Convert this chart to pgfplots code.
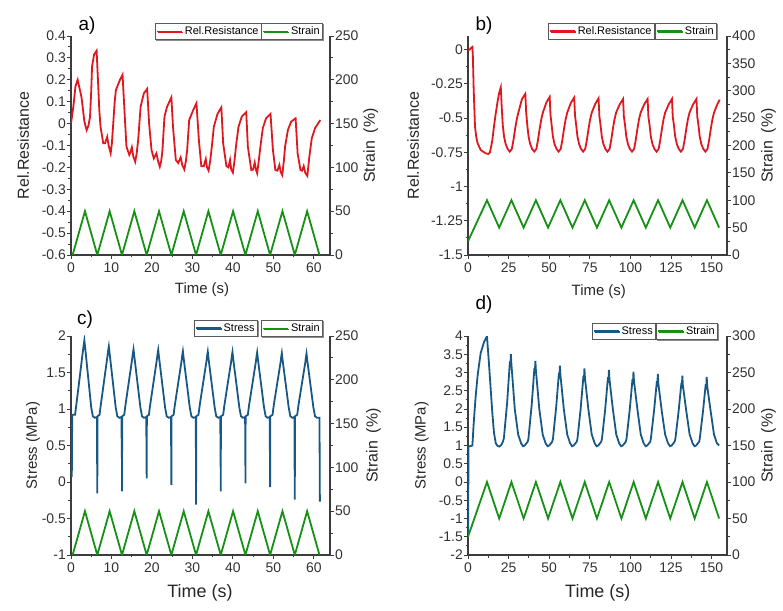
\documentclass[border=0pt]{standalone}
\usepackage{fontspec}
\setmainfont{Liberation Sans}
\usepackage{pgfplots}
\pgfplotsset{compat=1.18}
\usetikzlibrary{shadows}

\definecolor{rred}{RGB}{222,24,30}
\definecolor{ggreen}{RGB}{22,145,22}
\definecolor{bblue}{RGB}{24,88,132}
\definecolor{axgray}{RGB}{60,60,60}
\definecolor{txtgray}{RGB}{50,50,50}

\pgfplotsset{
  panel/.style={
    scale only axis, width=259bp, height=219bp, anchor=south west,
    axis line style={axgray, line width=1.1bp},
    tick style={axgray, line width=0.9bp},
    tick align=outside, major tick length=4bp, minor tick length=2.5bp,
    minor x tick num=1, minor y tick num=1,
    ticklabel style={font=\fontsize{14}{16}\selectfont, text=txtgray},
    yticklabel style={inner xsep=1bp},
    /pgf/number format/assume math mode=true,
    /pgf/number format/fixed,
    label style={font=\fontsize{16}{18}\selectfont, text=black!85},
    legend style={font=\fontsize{11}{12}\selectfont, draw=black!65, line width=0.6bp,
      fill=white, inner xsep=1bp, inner ysep=1.5bp, anchor=north east,
      drop shadow={shadow xshift=1bp, shadow yshift=-1bp, fill=black!45, opacity=1}},
    legend image code/.code={\draw[#1] (0bp,0bp) -- (25bp,0bp);},
    no markers,
  },
  leftax/.style={panel, axis x line*=bottom, axis y line*=left},
  rightax/.style={panel, axis x line=none, axis y line*=right},
  redline/.style={rred, line width=1.8bp},
  greenline/.style={ggreen, line width=1.8bp},
  blueline/.style={bblue, line width=1.8bp},
}

\begin{document}
\begin{tikzpicture}
\useasboundingbox (0,0) rectangle (783bp,611bp);

% ---------------- a) ----------------
\begin{axis}[leftax, at={(71bp,356bp)}, xmin=0, xmax=64, ymin=-0.6, ymax=0.4,
  xtick={0,10,...,60},
  ytick={-0.6,-0.5,-0.4,-0.3,-0.2,-0.1,0,0.1,0.2,0.3,0.4},
  xlabel={Time (s)}, ylabel={Rel.Resistance},
  xlabel style={at={(axis description cs:0.506,-0.16)}, anchor=center, font=\fontsize{15}{17}\selectfont},
  ylabel style={at={(axis description cs:-0.185,0.5)}, anchor=center},
  legend style={at={(0.737,1.059)}}]
\addplot[redline] coordinates {
(0,0) (0.6,0.08) (1.1,0.17) (1.65,0.2) (2.6,0.12) (3.3,0.01) (3.86,-0.03) (4.3,-0.01)
(4.7,0.03) (5.0,0.15) (5.2,0.26) (5.7,0.315) (6.33,0.333) (6.66,0.2) (7.0,0.06) (7.3,-0.015)
(7.97,-0.09) (8.4,-0.09) (8.95,-0.06) (9.3,-0.1) (9.8,-0.136) (10.1,-0.09) (10.4,-0.01)
(10.8,0.1) (11.1,0.153) (12.1,0.2) (12.74,0.223) (13.15,0.08) (13.7,-0.105) (14.4,-0.143)
(14.7,-0.13) (15.04,-0.108) (15.4,-0.15) (15.86,-0.174) (16.2,-0.14) (16.6,-0.075)
(17.2,0.077) (18.0,0.138) (18.82,0.159) (19.3,0.0) (19.9,-0.121) (20.46,-0.159) (21.1,-0.136)
(21.5,-0.17) (21.94,-0.197) (22.3,-0.17) (22.6,-0.121) (23.1,0.032) (23.74,0.077) (24.8,0.12)
(25.2,-0.014) (25.9,-0.166) (26.5,-0.18) (27.1,-0.154) (27.5,-0.19) (28.0,-0.209) (28.4,-0.17)
(28.7,-0.121) (29.2,0.016) (30.2,0.062) (31.0,0.093) (31.6,-0.075) (32.2,-0.194) (32.8,-0.195)
(33.3,-0.162) (33.6,-0.2) (34.0,-0.215) (34.4,-0.17) (34.8,-0.105) (35.3,-0.014) (36.2,0.044)
(37.15,0.074) (37.6,-0.09) (38.4,-0.194) (38.9,-0.2) (39.3,-0.166) (39.6,-0.21) (40.0,-0.224)
(40.4,-0.17) (40.85,-0.09) (41.4,-0.014) (42.2,0.032) (43.3,0.052) (43.7,-0.105) (44.55,-0.212)
(45.0,-0.21) (45.4,-0.178) (45.7,-0.21) (46.0,-0.227) (46.4,-0.17) (46.8,-0.105) (47.4,-0.021)
(48.2,0.024) (49.3,0.044) (49.9,-0.121) (50.5,-0.212) (51.0,-0.215) (51.5,-0.189) (51.8,-0.22)
(52.2,-0.235) (52.6,-0.17) (52.9,-0.105) (53.6,-0.029) (54.4,0.009) (55.5,0.024) (56.0,-0.136)
(56.7,-0.212) (57.1,-0.215) (57.5,-0.194) (57.9,-0.225) (58.4,-0.239) (58.9,-0.151)
(59.5,-0.067) (60.3,-0.021) (61.6,0.016)
};
\addlegendentry{Rel.Resistance}
\end{axis}
\begin{axis}[rightax, at={(71bp,356bp)}, xmin=0, xmax=64, ymin=0, ymax=250,
  ytick={0,50,...,250},
  ylabel={Strain\hspace{0.5em}(\%)},
  ylabel style={at={(axis description cs:1.157,0.5)}, anchor=center},
  legend style={at={(0.973,1.059)}}]
\addplot[greenline] coordinates {
(0.4,0) (3.45,50) (6.5,0) (9.55,50) (12.6,0) (15.65,50) (18.7,0) (21.75,50) (24.8,0)
(27.85,50) (30.9,0) (33.95,50) (37.0,0) (40.05,50) (43.1,0) (46.15,50) (49.2,0) (52.25,50)
(55.3,0) (58.35,50) (61.4,0)
};
\addlegendentry{Strain}
\end{axis}

% ---------------- b) ----------------
\begin{axis}[leftax, at={(468bp,356bp)}, xmin=0, xmax=159.5, ymin=-1.5, ymax=0.1,
  xtick={0,25,...,150},
  ytick={-1.5,-1.25,-1,-0.75,-0.5,-0.25,0},
  xlabel={Time (s)}, ylabel={Rel.Resistance},
  xlabel style={at={(axis description cs:0.505,-0.168)}, anchor=center, font=\fontsize{15}{17}\selectfont},
  ylabel style={at={(axis description cs:-0.212,0.5)}, anchor=center},
  legend style={at={(0.721,1.061)}}]
\addplot[redline] coordinates {
(0,0) (1,0.0) (1.6,0.01) (2.7,0.02) (3.0,-0.05) (3.5,-0.29) (4.3,-0.56) (5.0,-0.63)
(5.8,-0.68) (7.8,-0.733) (10.9,-0.757) (12.6,-0.762) (13.5,-0.75) (14.2,-0.71) (15.0,-0.66)
(16.0,-0.56) (17.1,-0.465) (18.2,-0.38) (19.1,-0.32) (20.2,-0.275)
(20.7,-0.405) (21.4,-0.55) (22.2,-0.635) (23.2,-0.69) (24.4,-0.725) (25.7,-0.745) (27.0,-0.725)
(28.0,-0.66) (29.0,-0.58) (30.0,-0.51) (31.0,-0.46) (33.2,-0.362)
(35.3,-0.322) (35.8,-0.452) (36.5,-0.55) (37.3,-0.635) (38.3,-0.69) (39.5,-0.725) (40.8,-0.745)
(42.1,-0.725) (43.1,-0.66) (44.1,-0.58) (45.1,-0.51) (46.1,-0.46) (48.3,-0.385)
(50.3,-0.345) (50.8,-0.475) (51.5,-0.55) (52.3,-0.635) (53.3,-0.69) (54.5,-0.725) (55.8,-0.745)
(57.1,-0.725) (58.1,-0.66) (59.1,-0.58) (60.1,-0.51) (61.1,-0.46) (63.3,-0.39)
(65.4,-0.35) (65.9,-0.48) (66.6,-0.55) (67.4,-0.635) (68.4,-0.69) (69.6,-0.725) (70.9,-0.745)
(72.2,-0.725) (73.2,-0.66) (74.2,-0.58) (75.2,-0.51) (76.2,-0.46) (78.4,-0.395)
(80.4,-0.355) (80.9,-0.485) (81.6,-0.55) (82.4,-0.635) (83.4,-0.69) (84.6,-0.725) (85.9,-0.745)
(87.2,-0.725) (88.2,-0.66) (89.2,-0.58) (90.2,-0.51) (91.2,-0.46) (93.4,-0.4)
(95.5,-0.36) (96.0,-0.49) (96.7,-0.55) (97.5,-0.635) (98.5,-0.69) (99.7,-0.725) (101.0,-0.745)
(102.3,-0.725) (103.3,-0.66) (104.3,-0.58) (105.3,-0.51) (106.3,-0.46) (108.5,-0.4)
(110.6,-0.36) (111.1,-0.49) (111.8,-0.55) (112.6,-0.635) (113.6,-0.69) (114.8,-0.725) (116.1,-0.745)
(117.4,-0.725) (118.4,-0.66) (119.4,-0.58) (120.4,-0.51) (121.4,-0.46) (123.6,-0.4)
(125.6,-0.36) (126.1,-0.49) (126.8,-0.55) (127.6,-0.635) (128.6,-0.69) (129.8,-0.725) (131.1,-0.745)
(132.4,-0.725) (133.4,-0.66) (134.4,-0.58) (135.4,-0.51) (136.4,-0.46) (138.6,-0.4)
(140.7,-0.36) (141.2,-0.49) (141.9,-0.55) (142.7,-0.635) (143.7,-0.69) (144.9,-0.725) (146.2,-0.745)
(147.5,-0.725) (148.5,-0.66) (149.5,-0.58) (150.5,-0.51) (151.5,-0.46) (153.5,-0.4) (155.0,-0.365)
};
\addlegendentry{Rel.Resistance}
\end{axis}
\begin{axis}[rightax, at={(468bp,356bp)}, xmin=0, xmax=159.5, ymin=0, ymax=400,
  ytick={0,50,...,400},
  ylabel={Strain\hspace{0.5em}(\%)},
  ylabel style={at={(axis description cs:1.16,0.5)}, anchor=center},
  legend style={at={(0.961,1.061)}}]
\addplot[greenline] coordinates {
(0,25) (11.7,100) (19.2,50) (26.75,100) (34.25,50) (41.8,100) (49.3,50) (56.85,100) (64.35,50)
(71.9,100) (79.4,50) (86.95,100) (94.45,50) (102.0,100) (109.5,50) (117.05,100) (124.55,50)
(132.1,100) (139.6,50) (147.15,100) (154.65,50)
};
\addlegendentry{Strain}
\end{axis}

% ---------------- c) ----------------
\begin{axis}[leftax, at={(71bp,56bp)}, xmin=0, xmax=64, ymin=-1, ymax=2,
  xtick={0,10,...,60},
  ytick={-1,-0.5,0,0.5,1,1.5,2},
  xlabel={Time (s)}, ylabel={Stress (MPa)},
  xlabel style={at={(axis description cs:0.498,-0.174)}, anchor=center, font=\fontsize{18}{20}\selectfont},
  ylabel style={at={(axis description cs:-0.147,0.5)}, anchor=center, font=\fontsize{15}{17}\selectfont},
  legend style={at={(0.722,1.073)}}]
\addplot[blueline] coordinates {
(0.2,0.07) (0.3,0.92) (1.0,0.92) (1.3,1.05) (3.0,1.82) (3.15,1.88) (3.3,1.94) (3.5,1.84)
(5.0,1.02) (5.4,0.9) (5.9,0.88) (6.4,0.89) (6.5,-0.155) (6.55,0.9) (7.05,0.92) (7.35,1.05)
(9.05,1.74) (9.2,1.81) (9.35,1.86) (9.55,1.76) (11.05,1.02) (11.45,0.9) (11.95,0.88) (12.45,0.89)
(12.5,0.6) (12.55,0.88) (12.6,-0.13) (12.65,0.9) (13.15,0.92) (13.45,1.05) (15.15,1.70)
(15.3,1.77) (15.45,1.82) (15.65,1.72) (17.15,1.02) (17.55,0.9) (18.05,0.88) (18.6,0.89)
(18.7,0.05) (18.75,0.9) (19.25,0.92) (19.55,1.05) (21.25,1.69) (21.4,1.76) (21.55,1.81)
(21.75,1.71) (23.25,1.02) (23.65,0.9) (24.15,0.88) (24.7,0.89) (24.75,0.47) (24.78,0.88)
(24.8,-0.04) (24.85,0.9) (25.35,0.92) (25.65,1.05) (27.35,1.67) (27.5,1.74) (27.65,1.79)
(27.85,1.69) (29.35,1.02) (29.75,0.9) (30.25,0.88) (30.8,0.89) (30.85,0.46) (30.88,0.88)
(30.9,-0.31) (30.95,0.9) (31.5,0.92) (31.8,1.05) (33.5,1.665) (33.65,1.735) (33.8,1.785)
(34.0,1.685) (35.5,1.02) (35.9,0.9) (36.4,0.88) (36.9,0.89) (36.95,0.21) (36.98,0.88)
(37.0,-0.13) (37.05,0.9) (37.6,0.92) (37.9,1.05) (39.6,1.66) (39.75,1.73) (39.9,1.78)
(40.1,1.68) (41.6,1.02) (42.0,0.9) (42.5,0.88) (43.0,0.89) (43.05,0.74) (43.08,0.88)
(43.1,-0.02) (43.15,0.9) (43.7,0.92) (44.0,1.05) (45.7,1.655) (45.85,1.725) (46.0,1.775)
(46.2,1.675) (47.7,1.02) (48.1,0.9) (48.6,0.88) (49.1,0.89) (49.2,-0.07) (49.25,0.9)
(49.8,0.92) (50.1,1.05) (51.8,1.645) (51.95,1.715) (52.1,1.765) (52.3,1.665) (53.8,1.02)
(54.2,0.9) (54.7,0.88) (55.2,0.89) (55.3,-0.24) (55.35,0.9) (55.9,0.92) (56.2,1.05)
(57.9,1.64) (58.05,1.71) (58.2,1.76) (58.4,1.66) (59.9,1.02) (60.3,0.9) (60.8,0.88)
(61.4,0.88) (61.5,-0.27)
};
\addlegendentry{Stress}
\end{axis}
\begin{axis}[rightax, at={(71bp,56bp)}, xmin=0, xmax=64, ymin=0, ymax=250,
  ytick={0,50,...,250},
  ylabel={Strain\hspace{0.5em}(\%)},
  ylabel style={at={(axis description cs:1.168,0.5)}, anchor=center},
  legend style={at={(0.973,1.073)}}]
\addplot[greenline] coordinates {
(0.4,0) (3.45,50) (6.5,0) (9.55,50) (12.6,0) (15.65,50) (18.7,0) (21.75,50) (24.8,0)
(27.85,50) (30.9,0) (33.95,50) (37.0,0) (40.05,50) (43.1,0) (46.15,50) (49.2,0) (52.25,50)
(55.3,0) (58.35,50) (61.4,0)
};
\addlegendentry{Strain}
\end{axis}

% ---------------- d) ----------------
\begin{axis}[leftax, at={(468bp,56bp)}, xmin=0, xmax=159.5, ymin=-2, ymax=4,
  xtick={0,25,...,150},
  ytick={-2,-1.5,-1,-0.5,0,0.5,1,1.5,2,2.5,3,3.5,4},
  xlabel={Time (s)}, ylabel={Stress (MPa)},
  xlabel style={at={(axis description cs:0.501,-0.175)}, anchor=center, font=\fontsize{18}{20}\selectfont},
  ylabel style={at={(axis description cs:-0.179,0.5)}, anchor=center, font=\fontsize{15}{17}\selectfont},
  legend style={at={(0.726,1.06)}}]
\addplot[blueline] coordinates {
(0.1,-1.4) (0.3,0.97) (2.7,1.0) (3.5,1.6) (4.7,2.34) (6.0,2.95) (7.8,3.53) (9.9,3.84)
(11.2,3.95) (11.7,4.0) (12.0,3.8) (12.9,3.25) (15.0,1.88) (16.0,1.35) (17.1,1.06) (18.2,0.99)
(19.2,0.97) (20.2,1.0) (21.3,1.08) (22.1,1.2) (24.1,2.17) (25.8,3.3) (26.05,3.15) (26.4,3.5)
(26.7,3.25) (28.8,2.0) (30.9,1.3) (32.7,1.06) (33.9,0.98) (34.9,1.0) (36.7,1.1) (37.2,1.18)
(39.2,2.1) (40.9,3.12) (41.15,2.97) (41.5,3.32)
(41.8,3.07) (43.9,2.0) (46.0,1.3) (47.8,1.06) (49.0,0.98) (50.0,1.0) (51.8,1.1) (52.3,1.18)
(54.3,2.05) (56.0,2.99) (56.25,2.84) (56.6,3.19)
(56.9,2.94) (59.0,2.0) (61.1,1.3) (62.9,1.06) (64.1,0.98) (65.1,1.0) (66.9,1.1) (67.4,1.18)
(69.4,2.02) (71.1,2.91) (71.35,2.76) (71.7,3.11)
(72.0,2.86) (74.1,2.0) (76.2,1.3) (78.0,1.06) (79.2,0.98) (80.2,1.0) (82.0,1.1) (82.5,1.18)
(84.5,2.0) (86.2,2.87) (86.45,2.72) (86.8,3.07)
(87.1,2.82) (89.2,2.0) (91.3,1.3) (93.1,1.06) (94.3,0.98) (95.3,1.0) (97.1,1.1) (97.6,1.18)
(99.6,1.98) (101.3,2.82) (101.55,2.67) (101.9,3.02)
(102.2,2.77) (104.3,2.0) (106.4,1.3) (108.2,1.06) (109.4,0.98) (110.4,1.0) (112.2,1.1) (112.6,1.18)
(114.6,1.96) (116.3,2.76) (116.55,2.61) (116.9,2.96)
(117.2,2.71) (119.3,1.95) (121.4,1.3) (123.2,1.06) (124.4,0.98) (125.4,1.0) (127.2,1.1) (127.7,1.18)
(129.7,1.94) (131.4,2.71) (131.65,2.56) (132.0,2.91)
(132.3,2.66) (134.4,1.95) (136.5,1.3) (138.3,1.06) (139.5,0.98) (140.5,1.0) (142.3,1.1) (142.7,1.18)
(144.7,1.93) (146.4,2.68) (146.65,2.53) (147.0,2.88)
(147.3,2.63) (149.4,1.95) (151.5,1.3) (153.3,1.06) (154.7,1.0)
};
\addlegendentry{Stress}
\end{axis}
\begin{axis}[rightax, at={(468bp,56bp)}, xmin=0, xmax=159.5, ymin=0, ymax=300,
  ytick={0,50,...,300},
  ylabel={Strain\hspace{0.5em}(\%)},
  ylabel style={at={(axis description cs:1.16,0.5)}, anchor=center},
  legend style={at={(0.965,1.06)}}]
\addplot[greenline] coordinates {
(0,25) (11.7,100) (19.2,50) (26.75,100) (34.25,50) (41.8,100) (49.3,50) (56.85,100) (64.35,50)
(71.9,100) (79.4,50) (86.95,100) (94.45,50) (102.0,100) (109.5,50) (117.05,100) (124.55,50)
(132.1,100) (139.6,50) (147.15,100) (154.65,50)
};
\addlegendentry{Strain}
\end{axis}

% panel letters
\node[font=\fontsize{19}{21}\selectfont] at (87bp,585bp) {a)};
\node[font=\fontsize{19}{21}\selectfont] at (484bp,585bp) {b)};
\node[font=\fontsize{19}{21}\selectfont] at (85bp,291bp) {c)};
\node[font=\fontsize{19}{21}\selectfont] at (484bp,306bp) {d)};
\end{tikzpicture}
\end{document}
